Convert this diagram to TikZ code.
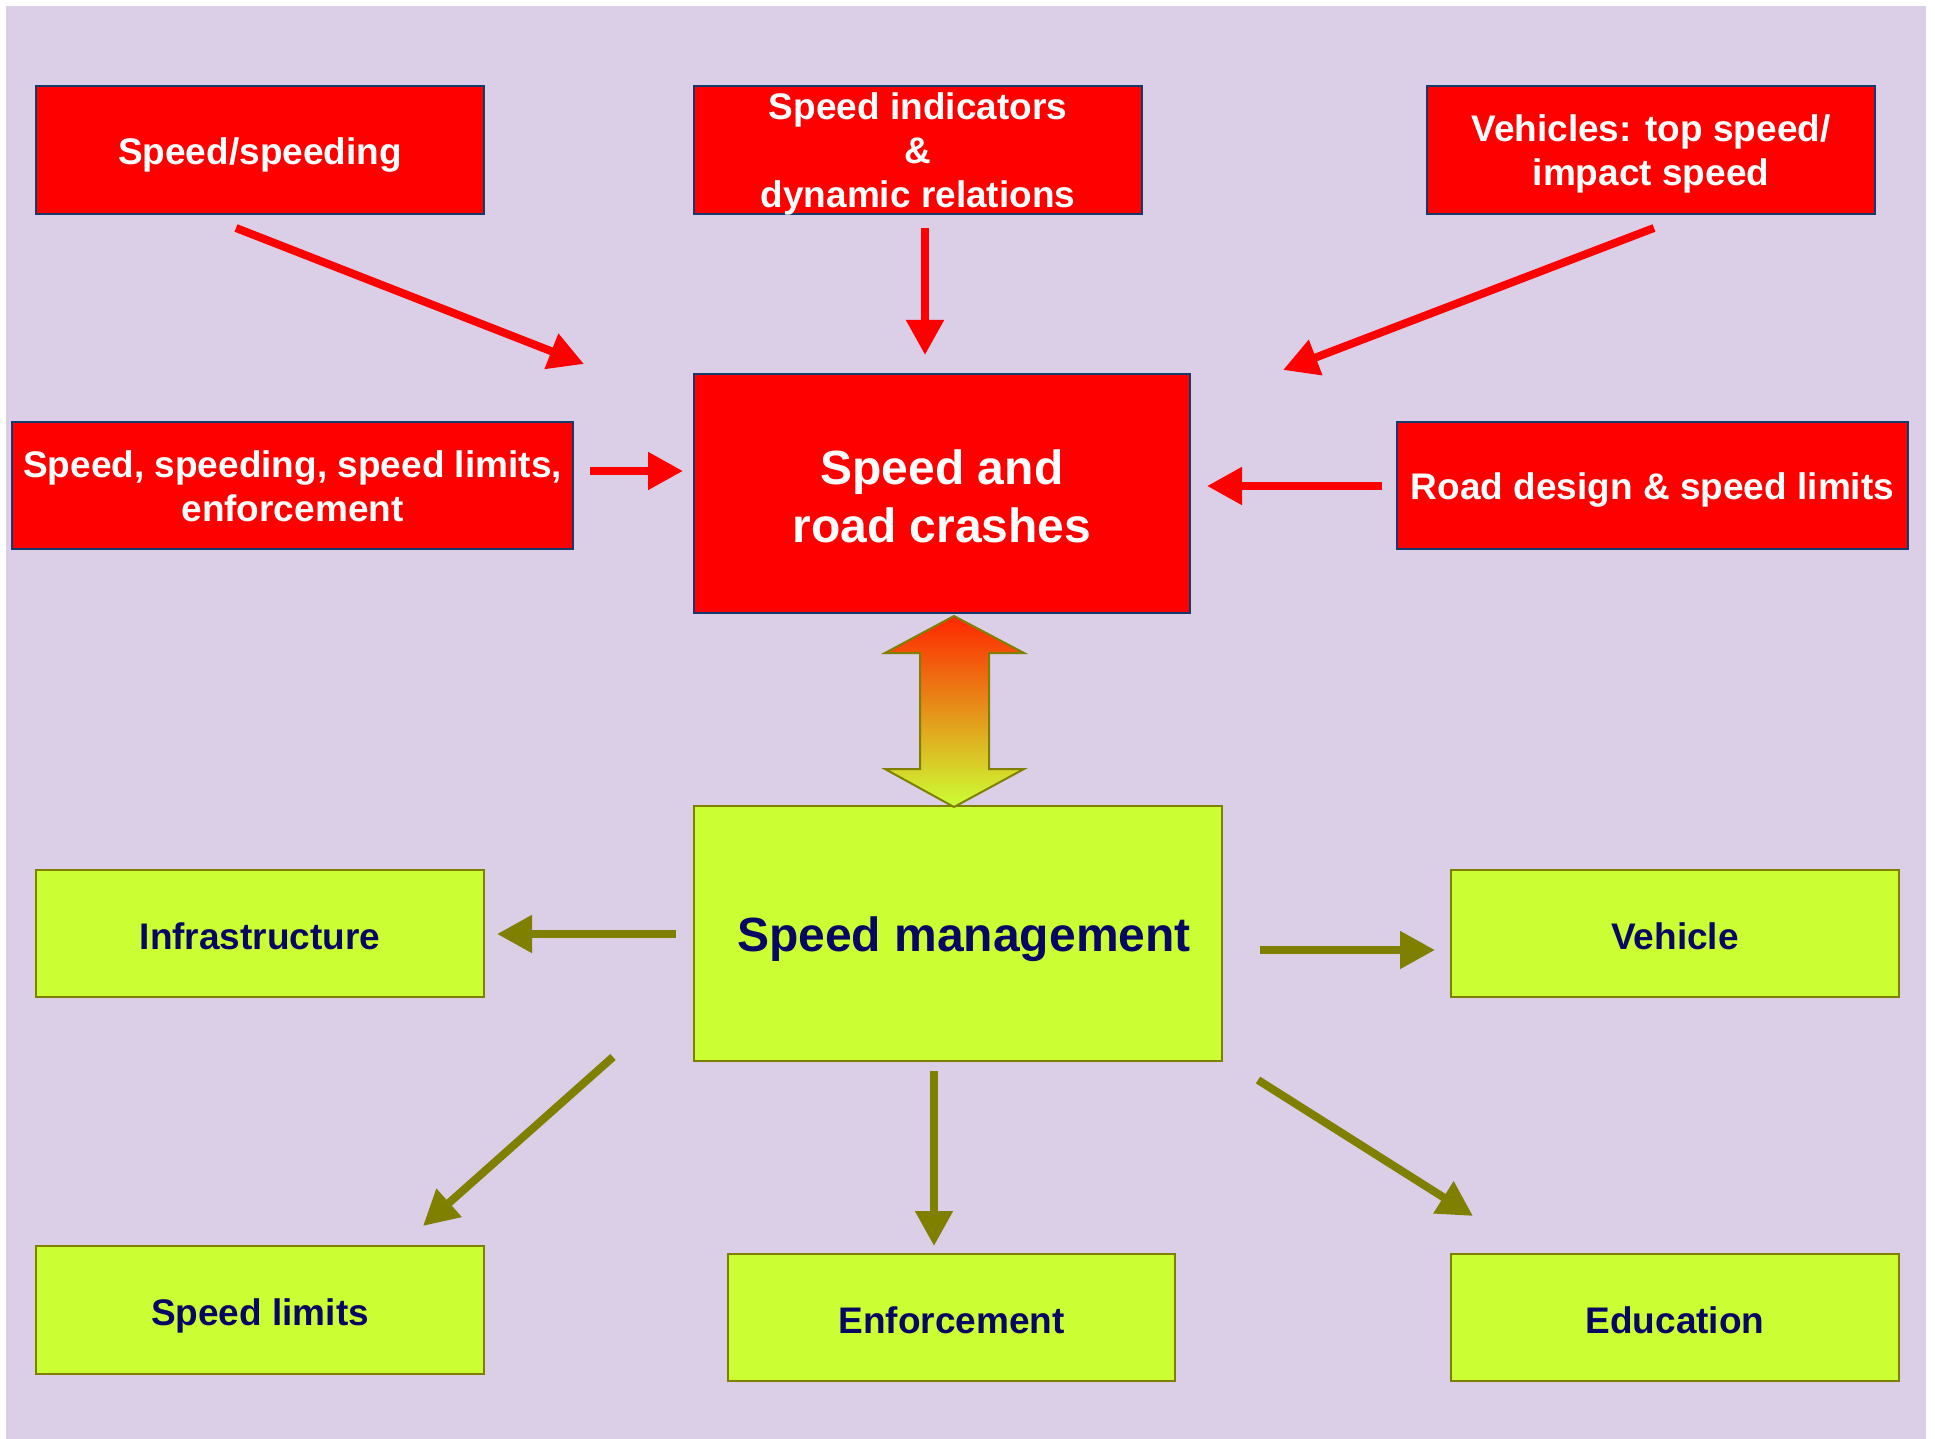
\documentclass[tikz,border=0pt]{standalone}
\usepackage{fontspec}
\setmainfont{Liberation Sans}
\usetikzlibrary{arrows.meta}

\definecolor{lavanda}{RGB}{219,206,231}
\definecolor{rosso}{RGB}{255,0,0}
\definecolor{blunotte}{RGB}{22,58,108}
\definecolor{lime}{RGB}{204,255,51}
\definecolor{oliva}{RGB}{128,128,0}
\definecolor{inchiostro}{RGB}{8,8,100}

\begin{document}
\begin{tikzpicture}[
    x=0.5pt, y=-0.5pt,
    every node/.style={align=center, font=\bfseries},
    % Box rossi (fattori di velocita')
    redbox/.style={draw=blunotte, line width=1pt, fill=rosso, text=white,
        inner sep=0pt, font=\bfseries\fontsize{18.5}{22}\selectfont},
    % Box verdi (misure di gestione)
    greenbox/.style={draw=oliva, line width=1.2pt, fill=lime, text=inchiostro,
        inner sep=0pt, text height=16pt, font=\bfseries\fontsize{18.5}{22}\selectfont},
    % Testo grande dei due box centrali
    bigtext/.style={font=\bfseries\fontsize{24}{29}\selectfont},
    % Frecce
    redarrow/.style={draw=rosso, line width=4pt,
        -{Triangle[length=17.5pt, width=18pt]}},
    olivearrow/.style={draw=oliva, line width=4pt,
        -{Triangle[length=17.5pt, width=18pt]}}
]

\useasboundingbox (0,0) rectangle (1935,1439);
\fill[lavanda] (6,6) rectangle (1926,1439);

% --- FATTORI (in alto) ---
\node[redbox, text height=18pt, minimum width=224pt, minimum height=64pt] (spd) at (260,150) {Speed/speeding};
\node[redbox, text depth=0pt, minimum width=224pt, minimum height=64pt] (ind) at (918,150) {Speed indicators\\ \&\\ dynamic relations};
\node[redbox, text depth=0pt, minimum width=224pt, minimum height=64pt] (veh) at (1651,150) {Vehicles: top speed/\\ impact speed};
\node[redbox, text height=36.5pt, minimum width=280.5pt, minimum height=63.5pt] (enf) at (292.5,485.5) {Speed, speeding, speed limits,\\ enforcement};
\node[redbox, text height=18pt, minimum width=255.5pt, minimum height=63.5pt] (road) at (1652.5,485.5) {Road design \& speed limits};

% --- CENTRO ---
\node[redbox, bigtext, text height=49pt, minimum width=248pt, minimum height=119.5pt] (crash) at (942,493.5) {Speed and\\ road crashes};
\node[greenbox, bigtext, minimum width=264pt, minimum height=127.5pt, text height=17.5pt, text depth=0pt] (mgmt) at (958,933.5) {\hspace{6pt}Speed management};

% Freccia doppia sfumata
\draw[oliva, line width=1pt, top color=rosso!70!orange, middle color=orange!75!yellow!90!black, bottom color=lime]
    (954,616) -- (1024,653) -- (989,653) -- (989,769) -- (1024,769) -- (954,807)
    -- (885,769) -- (920,769) -- (920,653) -- (885,653) -- cycle;

% --- MISURE (in basso) ---
\node[greenbox, minimum width=224pt, minimum height=63.5pt] (infra) at (260,933.5) {Infrastructure};
\node[greenbox, minimum width=224pt, minimum height=63.5pt] (vehicle) at (1675,933.5) {Vehicle};
\node[greenbox, text height=19pt, minimum width=224pt, minimum height=64pt] (limits) at (260,1310) {Speed limits};
\node[greenbox, minimum width=223.5pt, minimum height=63.5pt] (enforce) at (951.5,1317.5) {Enforcement};
\node[greenbox, minimum width=224pt, minimum height=63.5pt] (educ) at (1675,1317.5) {Education};

% Estremi delle frecce
\coordinate (spd-t) at (236,228);     \coordinate (spd-h) at (584,364);
\coordinate (ind-t) at (925,228);     \coordinate (ind-h) at (925,355);
\coordinate (veh-t) at (1654,228);    \coordinate (veh-h) at (1283,370);
\coordinate (enf-t) at (590,471);     \coordinate (enf-h) at (683,471);
\coordinate (road-t) at (1382,486);   \coordinate (road-h) at (1207,486);
\coordinate (infra-t) at (676,934);   \coordinate (infra-h) at (497,934);
\coordinate (vehicle-t) at (1260,950); \coordinate (vehicle-h) at (1435,950);
\coordinate (limits-t) at (613,1057); \coordinate (limits-h) at (423,1226);
\coordinate (enforce-t) at (934,1071); \coordinate (enforce-h) at (934,1246);
\coordinate (educ-t) at (1258,1080);  \coordinate (educ-h) at (1473,1216);

% Frecce rosse verso "Speed and road crashes"
\foreach \n in {spd, ind, veh, enf, road}
    \draw[redarrow] (\n-t) -- (\n-h);

% Frecce oliva da "Speed management"
\foreach \n in {infra, vehicle, limits, enforce, educ}
    \draw[olivearrow] (\n-t) -- (\n-h);

\end{tikzpicture}
\end{document}
